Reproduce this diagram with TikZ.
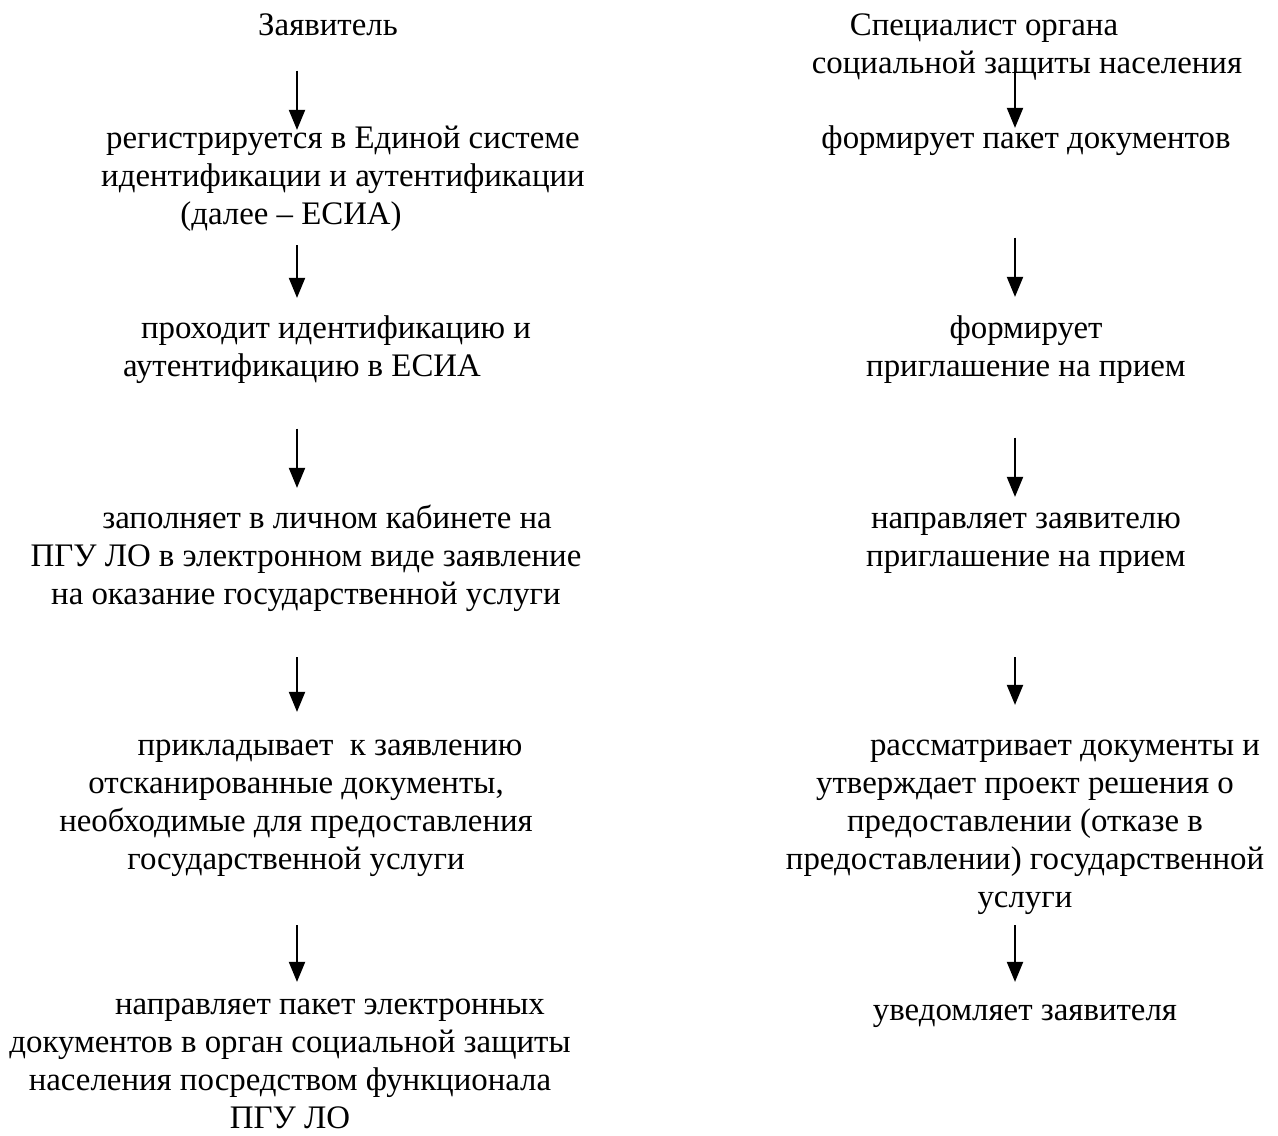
\documentclass[tikz,border=0pt]{standalone}
\usepackage{fontspec}
\setmainfont{Liberation Serif}
\usetikzlibrary{arrows.meta}

\tikzset{
  stage/.style={anchor=north, align=center, inner sep=0pt,
    font=\fontsize{18.7}{21.6}\selectfont},
  flow/.style={-{Triangle[width=0.32cm,length=0.4cm]}, line width=0.04cm}
}

\begin{document}
\begin{tikzpicture}[x=0.02cm,y=-0.02cm]
\useasboundingbox (0,0) rectangle (1278,1136);

% left column
\node[stage] (zv) at (328,8.4) {\strut Заявитель\strut};
\node[stage] (b1) at (343,121.4) {\strut регистрируется в Единой системе\\
  идентификации и аутентификации\\
  (далее – ЕСИА)\hspace*{2.08cm}\null\strut};
\node[stage] (b2) at (302,311.4) {\strut\hspace*{1.36cm}проходит идентификацию и\\
  аутентификацию в ЕСИА\strut};
\node[stage] (b3) at (306,501.4) {\strut\hspace*{0.84cm}заполняет в личном кабинете на\\
  ПГУ ЛО в электронном виде заявление\\
  на оказание государственной услуги\strut};
\node[stage] (b4) at (296,728.4) {\strut\hspace*{1.36cm}прикладывает\ \ к заявлению\\
  отсканированные документы,\\
  необходимые для предоставления\\
  государственной услуги\strut};
\node[stage] (b5) at (290,987.4) {\strut\hspace*{1.6cm}направляет пакет электронных\\
  документов в орган социальной защиты\\
  населения посредством функционала\\
  ПГУ ЛО};

% right column
\node[stage] (sp) at (1027,8.4) {\strut Специалист органа\hspace*{1.72cm}\null\\
  социальной защиты населения\strut};
\node[stage] (r1) at (1026,121.4) {\strut формирует пакет документов\strut};
\node[stage] (r2) at (1026,311.4) {\strut формирует\\
  приглашение на прием\strut};
\node[stage] (r3) at (1026,501.4) {\strut направляет заявителю\\
  приглашение на прием\strut};
\node[stage] (r4) at (1025,728.4) {\strut\hspace*{1.6cm}рассматривает документы и\\
  утверждает проект решения о\\
  предоставлении (отказе в\\
  предоставлении) государственной\\
  услуги\strut};
\node[stage] (r5) at (1025,993.4) {\strut уведомляет заявителя\strut};

\coordinate (lx) at (297,0);
\coordinate (rx) at (1015,0);

\draw[flow, shorten <=0.47cm, shorten >=-0.17cm] (zv.south -| lx) -- (b1.north -| lx);
\draw[flow, shorten <=0.19cm, shorten >=0.27cm] (b1.south -| lx) -- (b2.north -| lx);
\draw[flow, shorten <=0.81cm, shorten >=0.27cm] (b2.south -| lx) -- (b3.north -| lx);
\draw[flow, shorten <=0.83cm, shorten >=0.33cm] (b3.south -| lx) -- (b4.north -| lx);
\draw[flow, shorten <=0.89cm, shorten >=0.11cm] (b4.south -| lx) -- (b5.north -| lx);

\draw[flow, shorten <=-0.29cm, shorten >=-0.13cm] (sp.south -| rx) -- (r1.north -| rx);
\draw[flow, shorten <=1.55cm, shorten >=0.29cm] (r1.south -| rx) -- (r2.north -| rx);
\draw[flow, shorten <=0.99cm, shorten >=0.09cm] (r2.south -| rx) -- (r3.north -| rx);
\draw[flow, shorten <=1.59cm, shorten >=0.47cm] (r3.south -| rx) -- (r4.north -| rx);
\draw[flow, shorten <=0.13cm, shorten >=0.23cm] (r4.south -| rx) -- (r5.north -| rx);
\end{tikzpicture}
\end{document}
